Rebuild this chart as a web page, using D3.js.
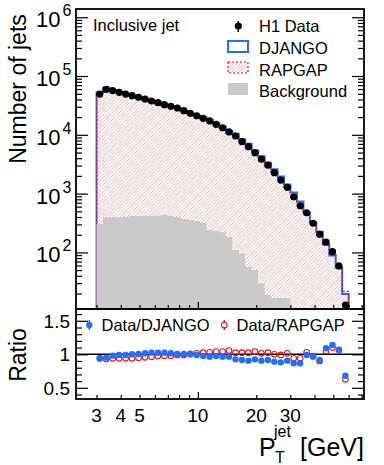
<!DOCTYPE html>
<html>
<head>
<meta charset="utf-8">
<script src="https://cdn.jsdelivr.net/npm/d3@7"></script>
<style>
  body { margin: 0; background: #fff; }
  svg { font-family: "Liberation Sans", Arial, sans-serif; }
</style>
</head>
<body>
<div id="container"></div>
<script>
// jet pT bin edges (GeV), log-spaced 3..60
const binEdges = [3.000, 3.240, 3.498, 3.778, 4.079, 4.405, 4.757, 5.137, 5.546, 5.989,
  6.467, 6.984, 7.541, 8.143, 8.793, 9.495, 10.25, 11.07, 11.96, 12.91,
  13.94, 15.05, 16.26, 17.55, 18.95, 20.47, 22.11, 23.87, 25.78, 27.83,
  30.05, 32.45, 35.05, 37.84, 40.86, 44.13, 47.65, 51.45, 55.56, 60.00];

const h1Data = [49400, 59400, 56300, 52800, 49400, 46300, 43400, 40600, 37600, 35200,
  32500, 30500, 28600, 25700, 23200, 21100, 19100, 17200, 15100, 13200,
  11200, 9550, 7640, 6280, 4970, 3850, 3040, 2270, 1700, 1280,
  885, 622, 473, 313, 203, 149, 103, 59, 12.7];
const h1Err = [0, 0, 0, 0, 0, 0, 0, 0, 0, 0, 0, 0, 0, 0, 0, 0, 0, 0, 0, 0,
  0, 0, 0, 0, 0, 0, 0, 0, 0, 0, 0, 0, 0, 0, 0, 0, 10, 8, 5];

const django = [52950, 62900, 57570, 53390, 49950, 46300, 43140, 39920, 36580, 34240,
  31610, 29990, 28430, 25550, 23200, 21330, 19650, 17900, 15530, 13740,
  11650, 10410, 8430, 7020, 5420, 4310, 3360, 2590, 1960, 1430,
  1040, 732, 478, 326, 224, 135, 89, 55, 19.7];

const rapgap = [52950, 64430, 60340, 56590, 52950, 49620, 45970, 42740, 39130, 36210,
  33230, 31190, 28920, 25990, 23060, 20750, 18580, 16650, 14460, 12640,
  10560, 9290, 7430, 6110, 4760, 3790, 2960, 2270, 1720, 1260,
  950, 667, 458, 322, 228, 141, 93, 55, 21.8];

const background = [304, 396, 396, 398, 405, 416, 418, 420, 420, 420,
  432, 420, 405, 370, 355, 342, 320, 240, 234, 220,
  183, 110, 97, 57, 50, 30, 19, 16.7, 16.7, 16.7,
  0, 0, 0, 0, 0, 0, 0, 0, 0];

const ratioDjango = [0.94, 0.95, 0.98, 0.99, 0.99, 1.0, 1.005, 1.015, 1.025, 1.025,
  1.025, 1.015, 1.005, 1.005, 1.0, 0.99, 0.975, 0.965, 0.975, 0.965,
  0.965, 0.925, 0.915, 0.905, 0.925, 0.905, 0.915, 0.89, 0.88, 0.905,
  0.866, 0.866, 0.99, 0.965, 0.915, 1.09, 1.14, 1.065, 0.68];
const ratioDjangoErr = [0, 0, 0, 0, 0, 0, 0, 0, 0, 0, 0, 0, 0, 0, 0, 0, 0, 0, 0, 0,
  0, 0, 0, 0, 0, 0, 0, 0, 0, 0, 0, 0.02, 0.03, 0.04, 0.05, 0.11, 0.14, 0.15, 0.18];

const ratioRapgap = [0.94, 0.93, 0.94, 0.94, 0.94, 0.94, 0.95, 0.955, 0.965, 0.975,
  0.98, 0.98, 0.99, 0.99, 1.005, 1.015, 1.025, 1.03, 1.04, 1.04,
  1.055, 1.025, 1.025, 1.025, 1.04, 1.015, 1.025, 1.0, 0.99, 1.015,
  0.94, 0.94, 1.03, 0.975, 0.9, 1.05, 1.1, 1.065, 0.627];
const ratioRapgapErr = [0, 0, 0, 0, 0, 0, 0, 0, 0, 0, 0, 0, 0, 0, 0, 0, 0, 0, 0, 0,
  0, 0, 0, 0, 0, 0, 0, 0, 0, 0, 0, 0.02, 0.03, 0.04, 0.05, 0.11, 0.14, 0.15, 0.23];

const xTickLabels = [3, 4, 5, 10, 20, 30];
const yMajorTicks = [1e2, 1e3, 1e4, 1e5, 1e6];
const yTickExp = ["2", "3", "4", "5", "6"];
const ratioTicks = [0.5, 1, 1.5];
const ratioTickLabels = ["0.5", "1", "1.5"];

const W = 384, H = 465;
const pL = 76, pR = 364, pT = 9, pM = 309, pB = 399;
const red = "#e8141c", blue = "#1f6fff", hatchCol = "#f5abab";

const svg = d3.select("#container").append("svg")
  .attr("width", W).attr("height", H);

const x = d3.scaleLog().domain([2.35, 72]).range([pL, pR]);
const y = d3.scaleLog().domain([10.9, 1.38e6]).range([pM, pT]);
const yr = d3.scaleLinear().domain([0.333, 1.676]).range([pB, pM]);

const centers = h1Data.map((d, i) => Math.sqrt(binEdges[i] * binEdges[i + 1]));

function yv(v) { return v > 0 ? Math.min(y(v), pM) : pM; }

function stepPoints(vals) {
  const pts = [[x(binEdges[0]), pM]];
  vals.forEach((v, i) => {
    pts.push([x(binEdges[i]), yv(v)]);
    pts.push([x(binEdges[i + 1]), yv(v)]);
  });
  pts.push([x(binEdges[vals.length]), pM]);
  return pts;
}
const line = d3.line();

const defs = svg.append("defs");
defs.append("clipPath").attr("id", "clipMain")
  .append("rect").attr("x", pL).attr("y", pT).attr("width", pR - pL).attr("height", pM - pT);
defs.append("clipPath").attr("id", "clipRatio")
  .append("rect").attr("x", pL).attr("y", pM).attr("width", pR - pL).attr("height", pB - pM);
defs.append("clipPath").attr("id", "clipRap")
  .append("path").attr("d", line(stepPoints(rapgap)) + "Z");
defs.append("clipPath").attr("id", "clipLegRap")
  .append("rect").attr("x", 228).attr("y", 62).attr("width", 20).attr("height", 11);

// diagonal hatch lines "/" inside a clipped group
function hatch(g, x0, x1, y0, y1, step) {
  const h = y1 - y0;
  d3.range(x0 - h, x1 + step, step).forEach(s => {
    g.append("line").attr("x1", s).attr("y1", y1).attr("x2", s + h).attr("y2", y0)
      .attr("stroke", hatchCol).attr("stroke-width", 0.9);
  });
}

const main = svg.append("g").attr("clip-path", "url(#clipMain)");

// RAPGAP hatched fill
hatch(main.append("g").attr("clip-path", "url(#clipRap)"), pL, pR, pT, pM, 3.5);
// DJANGO outline
main.append("path").attr("d", line(stepPoints(django)))
  .attr("fill", "none").attr("stroke", blue).attr("stroke-width", 2);
// RAPGAP outline
main.append("path").attr("d", line(stepPoints(rapgap)))
  .attr("fill", "none").attr("stroke", red).attr("stroke-width", 1.2)
  .attr("stroke-dasharray", "2,2");
// background
main.append("path").attr("d", line(stepPoints(background)) + "Z")
  .attr("fill", "#cacaca").attr("stroke", "none");

// data
main.selectAll(".err").data(h1Data).enter().append("line")
  .filter((d, i) => h1Err[i] > 0)
  .attr("x1", (d, i) => x(centers[i])).attr("x2", (d, i) => x(centers[i]))
  .attr("y1", (d, i) => yv(d + h1Err[i]))
  .attr("y2", (d, i) => yv(d - h1Err[i]))
  .attr("stroke", "#000").attr("stroke-width", 1.5);
main.selectAll(".pt").data(h1Data).enter().append("circle")
  .attr("cx", (d, i) => x(centers[i])).attr("cy", d => y(d))
  .attr("r", 3.6).attr("fill", "#000");

// axes
const yMinor = [];
for (let e = 1; e <= 6; e++) for (let m = 2; m <= 9; m++) {
  const v = m * Math.pow(10, e);
  if (v > 10.9 && v < 1.38e6) yMinor.push(v);
}
const xMinor = [3, 4, 5, 6, 7, 8, 9, 20, 30, 40, 50, 60, 70];

function drawAxes(g, ys, yMaj, yMin, yTop, yBot, xMajLen, xMinLen) {
  g.append("g").attr("transform", `translate(${pL},0)`)
    .call(d3.axisLeft(ys).tickValues(yMaj).tickSize(-12).tickFormat(""));
  g.append("g").attr("transform", `translate(${pL},0)`)
    .call(d3.axisLeft(ys).tickValues(yMin).tickSize(-6).tickFormat(""));
  g.append("g").attr("transform", `translate(${pR},0)`)
    .call(d3.axisRight(ys).tickValues(yMaj).tickSize(-12).tickFormat(""));
  g.append("g").attr("transform", `translate(${pR},0)`)
    .call(d3.axisRight(ys).tickValues(yMin).tickSize(-6).tickFormat(""));
  g.append("g").attr("transform", `translate(0,${yBot})`)
    .call(d3.axisBottom(x).tickValues([10]).tickSize(-xMajLen).tickFormat(""));
  g.append("g").attr("transform", `translate(0,${yBot})`)
    .call(d3.axisBottom(x).tickValues(xMinor).tickSize(-xMinLen).tickFormat(""));
  g.selectAll(".domain").remove();
  g.selectAll(".tick line").attr("stroke", "#000").attr("stroke-width", 1.2);
  g.append("rect").attr("x", pL).attr("y", yTop)
    .attr("width", pR - pL).attr("height", yBot - yTop)
    .attr("fill", "none").attr("stroke", "#000").attr("stroke-width", 1.8);
}
drawAxes(svg.append("g"), y, yMajorTicks, yMinor, pT, pM, 7, 4);

// y tick labels main
const yLab = svg.append("g").attr("font-size", 22).attr("fill", "#000");
yMajorTicks.forEach((v, i) => {
  const t = yLab.append("text").attr("x", 36).attr("y", y(v) + 10);
  t.append("tspan").text("10");
  t.append("tspan").attr("dx", 2).attr("dy", -11).attr("font-size", 16).text(yTickExp[i]);
});

svg.append("text").attr("transform", `translate(26,${(pT + 165) / 2 + 2}) rotate(-90)`)
  .attr("text-anchor", "middle").attr("font-size", 23).text("Number of jets");

svg.append("text").attr("x", 93).attr("y", 31).attr("font-size", 16.5).text("Inclusive jet");

// legend
const lg = svg.append("g").attr("font-size", 16.5);
lg.append("line").attr("x1", 238.3).attr("x2", 238.3).attr("y1", 21).attr("y2", 32)
  .attr("stroke", "#000").attr("stroke-width", 1.5);
lg.append("circle").attr("cx", 238.3).attr("cy", 26).attr("r", 3.6).attr("fill", "#000");
lg.append("text").attr("x", 259).attr("y", 32).text("H1 Data");
lg.append("rect").attr("x", 228).attr("y", 41).attr("width", 20).attr("height", 11)
  .attr("fill", "none").attr("stroke", blue).attr("stroke-width", 2);
lg.append("text").attr("x", 259).attr("y", 54).text("DJANGO");
hatch(lg.append("g").attr("clip-path", "url(#clipLegRap)"), 228, 248, 62, 73, 3.5);
lg.append("rect").attr("x", 228).attr("y", 62).attr("width", 20).attr("height", 11)
  .attr("fill", "none").attr("stroke", red).attr("stroke-width", 1.2)
  .attr("stroke-dasharray", "2,2");
lg.append("text").attr("x", 259).attr("y", 76).text("RAPGAP");
lg.append("rect").attr("x", 228).attr("y", 83).attr("width", 20).attr("height", 12)
  .attr("fill", "#cacaca");
lg.append("text").attr("x", 259).attr("y", 97).text("Background");

// ratio panel
const rp = svg.append("g").attr("clip-path", "url(#clipRatio)");
rp.append("line").attr("x1", pL).attr("x2", pR).attr("y1", yr(1)).attr("y2", yr(1))
  .attr("stroke", "#000").attr("stroke-width", 1.5);

function drawRatio(vals, errs, color, filled) {
  rp.selectAll(null).data(vals).enter().append("line")
    .filter((d, i) => errs[i] > 0)
    .attr("x1", (d, i) => x(centers[i])).attr("x2", (d, i) => x(centers[i]))
    .attr("y1", (d, i) => yr(d + errs[i])).attr("y2", (d, i) => yr(d - errs[i]))
    .attr("stroke", color).attr("stroke-width", 1.5);
  rp.selectAll(null).data(vals).enter().append("circle")
    .attr("cx", (d, i) => x(centers[i])).attr("cy", d => yr(d))
    .attr("r", filled ? 3.2 : 2.8)
    .attr("fill", filled ? color : "none")
    .attr("stroke", color).attr("stroke-width", filled ? 0 : 1.1);
}
drawRatio(ratioRapgap, ratioRapgapErr, red, false);
drawRatio(ratioDjango, ratioDjangoErr, blue, true);

const rMinor = [0.4, 0.6, 0.7, 0.8, 0.9, 1.1, 1.2, 1.3, 1.4, 1.6];
drawAxes(svg.append("g"), yr, ratioTicks, rMinor, pM, pB, 7, 4);

const rLab = svg.append("g").attr("font-size", 19).attr("text-anchor", "end");
ratioTicks.forEach((v, i) => {
  rLab.append("text").attr("x", 70).attr("y", yr(v) + 7).text(ratioTickLabels[i]);
});
svg.append("text").attr("transform", `translate(26,355) rotate(-90)`)
  .attr("text-anchor", "middle").attr("font-size", 23).text("Ratio");

// ratio legend
const rl = svg.append("g").attr("font-size", 16.5);
rl.append("line").attr("x1", 89.3).attr("x2", 89.3).attr("y1", 320).attr("y2", 330)
  .attr("stroke", blue).attr("stroke-width", 1.5);
rl.append("circle").attr("cx", 89.3).attr("cy", 325).attr("r", 3.2).attr("fill", blue);
rl.append("text").attr("x", 101.5).attr("y", 331).text("Data/DJANGO");
rl.append("line").attr("x1", 224.3).attr("x2", 224.3).attr("y1", 320).attr("y2", 330)
  .attr("stroke", red).attr("stroke-width", 1.5);
rl.append("circle").attr("cx", 224.3).attr("cy", 325).attr("r", 2.8)
  .attr("fill", "#fff").attr("stroke", red).attr("stroke-width", 1.1);
rl.append("text").attr("x", 236.5).attr("y", 331).text("Data/RAPGAP");

// x tick labels
const xl = svg.append("g").attr("font-size", 19).attr("text-anchor", "middle");
xTickLabels.forEach(v => {
  xl.append("text").attr("x", x(v)).attr("y", 421.5).text(v);
});

// x title
const xt = svg.append("g");
xt.append("text").attr("x", 259).attr("y", 456).attr("font-size", 25).text("P");
xt.append("text").attr("x", 275).attr("y", 463).attr("font-size", 16).text("T");
xt.append("text").attr("x", 274).attr("y", 437).attr("font-size", 16).text("jet");
xt.append("text").attr("x", 300).attr("y", 456).attr("font-size", 25).text("[GeV]");
</script>
</body>
</html>
